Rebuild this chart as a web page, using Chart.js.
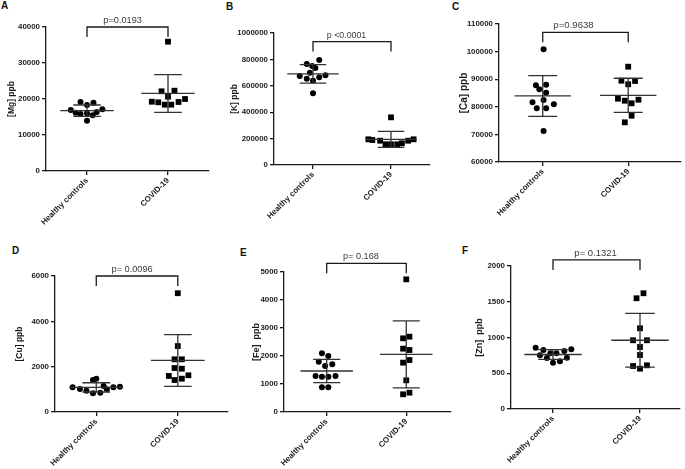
<!DOCTYPE html>
<html>
<head>
<meta charset="utf-8">
<script src="https://cdn.jsdelivr.net/npm/chart.js@4.4.1/dist/chart.umd.min.js"></script>
<style>
  body { margin: 0; background: #fff; width: 685px; height: 469px; position: relative; overflow: hidden; font-family: "Liberation Sans", Arial, sans-serif; }
  canvas { position: absolute; }
  .tag { position: absolute; font-weight: bold; font-size: 10px; line-height: 10px; color: #111; }
</style>
</head>
<body>
<div class="tag" style="left:1px;top:1px">A</div>
<div class="tag" style="left:226px;top:2px">B</div>
<div class="tag" style="left:452px;top:2px">C</div>
<div class="tag" style="left:12px;top:246px">D</div>
<div class="tag" style="left:240px;top:248px">E</div>
<div class="tag" style="left:462px;top:246px">F</div>

<canvas id="cA"></canvas>
<canvas id="cB"></canvas>
<canvas id="cC"></canvas>
<canvas id="cD"></canvas>
<canvas id="cE"></canvas>
<canvas id="cF"></canvas>

<script>
const groups = ["Healthy controls", "COVID-19"];

// A - Mg
const mgHealthy  = [19170, 18970, 18330, 16940, 16200, 15830, 16030, 15470, 16390, 17140, 13970];
const mgHealthyX = [-0.08, 0.08, 0, -0.2, -0.14, -0.08, 0, 0.07, 0.12, 0.19, 0];
const mgCovid    = [35920, 22140, 22310, 20640, 19250, 19080, 18420, 18420, 19170, 20000];
const mgCovidX   = [0, -0.08, 0.08, 0, -0.2, -0.12, -0.04, 0.04, 0.13, 0.21];

// B - K
const kHealthy  = [795500, 765200, 750000, 734800, 699200, 674300, 653800, 638600, 664400, 679500, 543200];
const kHealthyX = [0.08, -0.08, -0.01, 0.03, -0.04, -0.17, -0.08, 0, 0.08, 0.16, 0];
const kCovid    = [361000, 194700, 189400, 184100, 156800, 156800, 156800, 164400, 184100, 194700];
const kCovidX   = [0, -0.29, -0.24, -0.14, -0.07, 0, 0.08, 0.14, 0.22, 0.29];

// C - Ca
const caHealthy  = [100830, 87790, 88000, 86340, 85110, 82460, 81630, 80900, 79450, 79450, 71230];
const caHealthyX = [0.01, -0.08, 0.04, -0.04, 0.04, 0.01, -0.12, 0.13, -0.07, 0.04, 0.01];
const caCovid    = [94530, 89460, 89350, 88150, 82930, 82210, 81270, 82570, 76770, 74380];
const caCovidX   = [0, -0.08, 0.08, 0, -0.12, -0.04, 0.04, 0.12, 0.04, -0.04];

// D - Cu
const cuHealthy  = [1090, 1015, 940, 825, 850, 1000, 1090, 1115, 1410, 1470, 1150];
const cuHealthyX = [-0.29, -0.2, -0.12, -0.04, 0.05, 0.13, 0.21, 0.29, -0.04, 0, 0.09];
const cuCovid    = [5240, 2910, 2325, 2325, 1940, 1910, 1590, 1620, 1410, 1470];
const cuCovidX   = [0, 0, -0.04, 0.05, -0.04, 0.05, -0.11, 0.13, -0.04, 0.05];

// E - Fe
const feHealthy  = [2096, 2000, 1796, 1703, 1643, 1286, 1262, 1262, 1286, 882, 882];
const feHealthyX = [-0.06, 0.02, -0.1, 0.07, -0.02, -0.14, -0.06, 0.02, 0.11, -0.06, 0.02];
const feCovid    = [4738, 2631, 2690, 2262, 2214, 1762, 1857, 1131, 632, 690];
const feCovidX   = [0, -0.04, 0.04, -0.04, 0.04, -0.04, 0.04, 0, -0.04, 0.04];

// F - Zn
const znHealthy  = [858, 825, 779, 779, 811, 835, 751, 713, 718, 648, 667];
const znHealthyX = [-0.2, -0.11, -0.03, 0.04, 0.13, 0.21, -0.15, -0.07, 0.16, 0, 0.08];
const znCovid    = [1549, 1619, 1129, 961, 961, 867, 755, 601, 611, 564];
const znCovidX   = [-0.04, 0.04, 0, -0.08, 0.08, 0, 0, -0.08, 0.08, 0];

const yTitles = ["[Mg] ppb", "[K] ppb", "[Ca] ppb", "[Cu] ppb", "[Fe]  ppb", "[Zn]  ppb"];
const pLabels = ["p=0.0193", "p <0.0001", "p=0.9638", "p= 0.0096", "p= 0.168", "p= 0.1321"];
const bracketTop = [40000, 935000, 107000, 6000, 5310, 2085];
const yMin  = [0, 0, 60000, 0, 0, 0];
const yMax  = [40000, 1000000, 110000, 6000, 5000, 2000];
const yStep = [10000, 200000, 10000, 2000, 1000, 500];

const healthySets = [mgHealthy, kHealthy, caHealthy, cuHealthy, feHealthy, znHealthy];
const healthyJit  = [mgHealthyX, kHealthyX, caHealthyX, cuHealthyX, feHealthyX, znHealthyX];
const covidSets   = [mgCovid, kCovid, caCovid, cuCovid, feCovid, znCovid];
const covidJit    = [mgCovidX, kCovidX, caCovidX, cuCovidX, feCovidX, znCovidX];

// page layout: canvas box, plot area, group tick pixels
const panels = [
  { id: "cA", box: [0, 0, 225, 235],   area: [46, 27, 209, 171],  hx: 87,  cx: 168, titleX: 11.7,  titleSize: 8.5, pX: 1.44, pSize: 9.2 },
  { id: "cB", box: [225, 0, 225, 235], area: [274, 33, 430, 165], hx: 313, cx: 391, titleX: 235,   titleSize: 8.5, pX: 1.43, pSize: 8.8 },
  { id: "cC", box: [450, 0, 235, 235], area: [499, 24, 682, 162], hx: 543, cx: 629, titleX: 464,   titleSize: 10,  pX: 1.36, pSize: 9.6 },
  { id: "cD", box: [0, 235, 232, 234], area: [55, 276, 231, 412], hx: 97,  cx: 180, titleX: 20,    titleSize: 8.5, pX: 1.44, pSize: 9.2 },
  { id: "cE", box: [232, 235, 223, 234], area: [284, 272, 456, 412], hx: 328, cx: 410, titleX: 256.7, titleSize: 9, pX: 1.43, pSize: 9.2 },
  { id: "cF", box: [456, 235, 229, 234], area: [511, 266, 680, 409], hx: 553, cx: 640, titleX: 479.3, titleSize: 9, pX: 1.49, pSize: 9.5 }
];

const FONT = '"Liberation Sans", Arial, sans-serif';
const INK = "#1a1a1a";

function meanSd(vals) {
  const m = vals.reduce((a, b) => a + b, 0) / vals.length;
  const v = vals.reduce((a, b) => a + (b - m) * (b - m), 0) / (vals.length - 1);
  return [m, Math.sqrt(v)];
}

function errorBar(vals, c) {
  const [m, sd] = meanSd(vals);
  return [
    { x: c - 0.33, y: m }, { x: c + 0.33, y: m }, { x: c, y: null },
    { x: c - 0.17, y: m + sd }, { x: c + 0.17, y: m + sd }, { x: c, y: null },
    { x: c - 0.17, y: m - sd }, { x: c + 0.17, y: m - sd }, { x: c, y: null },
    { x: c, y: m - sd }, { x: c, y: m + sd }
  ];
}

const bracketPlugin = {
  id: "bracket",
  afterDraw(chart, args, opts) {
    const { ctx, scales: { x, y } } = chart;
    const yb = y.getPixelForValue(opts.top);
    const x1 = x.getPixelForValue(1), x2 = x.getPixelForValue(2);
    ctx.save();
    ctx.strokeStyle = INK;
    ctx.lineWidth = 1.3;
    ctx.beginPath();
    ctx.moveTo(x1, yb + 10);
    ctx.lineTo(x1, yb);
    ctx.lineTo(x2, yb);
    ctx.lineTo(x2, yb + 10);
    ctx.stroke();
    ctx.fillStyle = "#3a3a3a";
    ctx.font = opts.size + "px " + FONT;
    ctx.textAlign = "center";
    ctx.textBaseline = "middle";
    ctx.fillText(opts.text, x.getPixelForValue(opts.textX), yb - 6.5);
    ctx.restore();
  }
};

panels.forEach((p, i) => {
  const cv = document.getElementById(p.id);
  const [bx, by, bw, bh] = p.box;
  const [al, at, ar, ab] = p.area;
  cv.width = bw; cv.height = bh;
  cv.style.left = bx + "px"; cv.style.top = by + "px";
  cv.style.width = bw + "px"; cv.style.height = bh + "px";

  const unit = p.cx - p.hx;
  const xMin = 1 - (p.hx - al) / unit;
  const xMax = 2 + (ar - p.cx) / unit;
  const yAxisW = al - bx;
  const xAxisH = by + bh - ab;

  new Chart(cv, {
    type: "scatter",
    data: {
      datasets: [
        {
          data: errorBar(healthySets[i], 1),
          showLine: true, pointRadius: 0, borderColor: "#333", borderWidth: 1.3, spanGaps: false
        },
        {
          data: errorBar(covidSets[i], 2),
          showLine: true, pointRadius: 0, borderColor: "#333", borderWidth: 1.3, spanGaps: false
        },
        {
          data: healthySets[i].map((v, k) => ({ x: 1 + healthyJit[i][k], y: v })),
          pointStyle: "circle", pointRadius: 3, backgroundColor: "#000", borderWidth: 0
        },
        {
          data: covidSets[i].map((v, k) => ({ x: 2 + covidJit[i][k], y: v })),
          pointStyle: "rect", pointRadius: 4.1, backgroundColor: "#000", borderWidth: 0
        }
      ]
    },
    options: {
      responsive: false,
      animation: false,
      layout: { padding: { top: at - by, right: bx + bw - ar, left: 0, bottom: 0 } },
      plugins: {
        legend: { display: false },
        tooltip: { enabled: false },
        bracket: { top: bracketTop[i], text: pLabels[i], textX: p.pX, size: p.pSize }
      },
      scales: {
        x: {
          type: "linear",
          min: xMin, max: xMax,
          afterBuildTicks: a => { a.ticks = [{ value: 1 }, { value: 2 }]; },
          afterFit: a => { a.height = xAxisH; a.paddingLeft = 0; a.paddingRight = 0; },
          ticks: {
            callback: v => groups[v - 1],
            minRotation: 45, maxRotation: 45, autoSkip: false,
            font: { family: FONT, size: 8, weight: "bold" }, color: INK, padding: 1
          },
          grid: { drawOnChartArea: false, drawTicks: true, tickLength: 4, color: INK, lineWidth: 1.3 },
          border: { color: INK, width: 1.3 }
        },
        y: {
          min: yMin[i], max: yMax[i],
          afterFit: a => { a.width = yAxisW; a.paddingTop = 0; a.paddingBottom = 0; },
          ticks: {
            stepSize: yStep[i],
            callback: v => String(v),
            font: { family: FONT, size: 7.9, weight: "bold" }, color: INK, padding: 2
          },
          grid: { drawOnChartArea: false, drawTicks: true, tickLength: 4, color: INK, lineWidth: 1.3 },
          border: { color: INK, width: 1.3 },
          title: {
            display: true, text: yTitles[i], color: INK,
            font: { family: FONT, size: p.titleSize, weight: "bold" },
            padding: { top: p.titleX - bx - p.titleSize * 0.6, bottom: 0 }
          }
        }
      }
    },
    plugins: [bracketPlugin]
  });
});
</script>
</body>
</html>
